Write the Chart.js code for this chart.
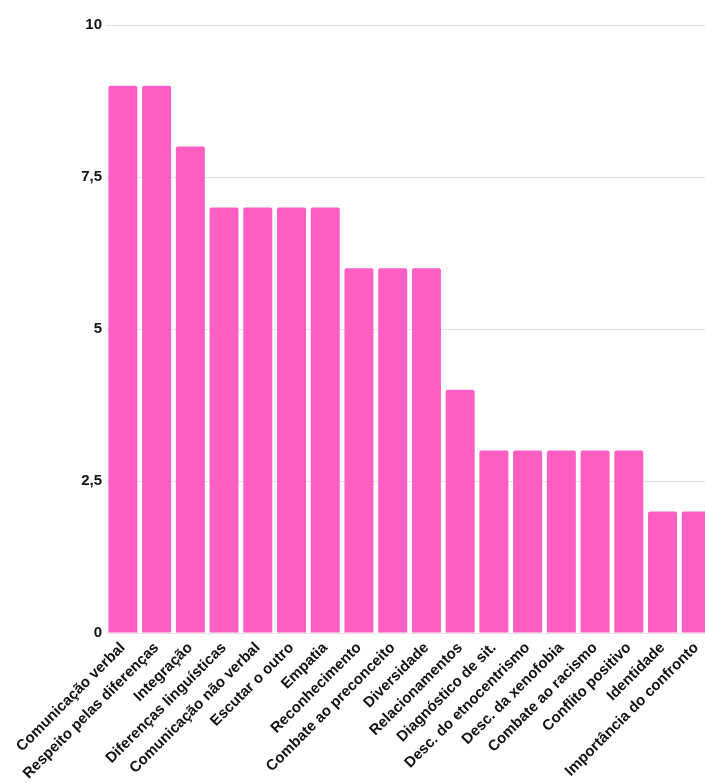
<!DOCTYPE html>
<html>
<head>
<meta charset="utf-8">
<script src="https://cdn.jsdelivr.net/npm/chart.js@4/dist/chart.umd.min.js"></script>
<style>
  html, body { margin: 0; padding: 0; background: #ffffff; overflow: hidden; }
  #wrap { width: 715px; height: 783px; }
</style>
</head>
<body>
<div id="wrap"><canvas id="chart" width="715" height="783"></canvas></div>
<script>
// Topics and how many times each one was mentioned
const categories = [
  'Comunicação verbal',
  'Respeito pelas diferenças',
  'Integração',
  'Diferenças linguísticas',
  'Comunicação não verbal',
  'Escutar o outro',
  'Empatia',
  'Reconhecimento',
  'Combate ao preconceito',
  'Diversidade',
  'Relacionamentos',
  'Diagnóstico de sit.',
  'Desc. do etnocentrismo',
  'Desc. da xenofobia',
  'Combate ao racismo',
  'Conflito positivo',
  'Identidade',
  'Importância do confronto'
];
const mentions = [9, 9, 8, 7, 7, 7, 7, 6, 6, 6, 4, 3, 3, 3, 3, 3, 2, 2];
const yTickValues = [0, 2.5, 5, 7.5, 10];
const yTickLabels = ['0', '2,5', '5', '7,5', '10'];

const FONT = '"Liberation Sans", Arial, sans-serif';

new Chart(document.getElementById('chart'), {
  type: 'bar',
  data: {
    labels: categories,
    datasets: [{
      data: mentions,
      backgroundColor: '#ff5ec3',
      borderWidth: 0,
      borderRadius: { topLeft: 2, topRight: 2 },
      borderSkipped: 'bottom',
      categoryPercentage: 1,
      barPercentage: 0.86
    }]
  },
  options: {
    responsive: false,
    animation: false,
    layout: { padding: { top: 25, right: 0, left: 0, bottom: 0 } },
    plugins: { legend: { display: false }, tooltip: { enabled: false } },
    scales: {
      x: {
        grid: { display: false, drawTicks: false },
        border: { display: false },
        ticks: {
          color: '#111111',
          font: { family: FONT, size: 15, weight: 'bold' },
          minRotation: 45,
          maxRotation: 45,
          autoSkip: false,
          padding: 6
        },
        afterFit: (scale) => { scale.height = 150; }
      },
      y: {
        min: 0,
        max: 10,
        afterBuildTicks: (scale) => {
          scale.ticks = yTickValues.map(v => ({ value: v }));
        },
        grid: { color: '#e3e3e3', lineWidth: 1, drawTicks: false },
        border: { display: false },
        ticks: {
          color: '#111111',
          font: { family: FONT, size: 15, weight: 'bold' },
          padding: 4,
          callback: (value) => {
            const i = yTickValues.indexOf(value);
            return i >= 0 ? yTickLabels[i] : '';
          }
        },
        afterFit: (scale) => { scale.width = 106; }
      }
    }
  }
});
</script>
</body>
</html>
